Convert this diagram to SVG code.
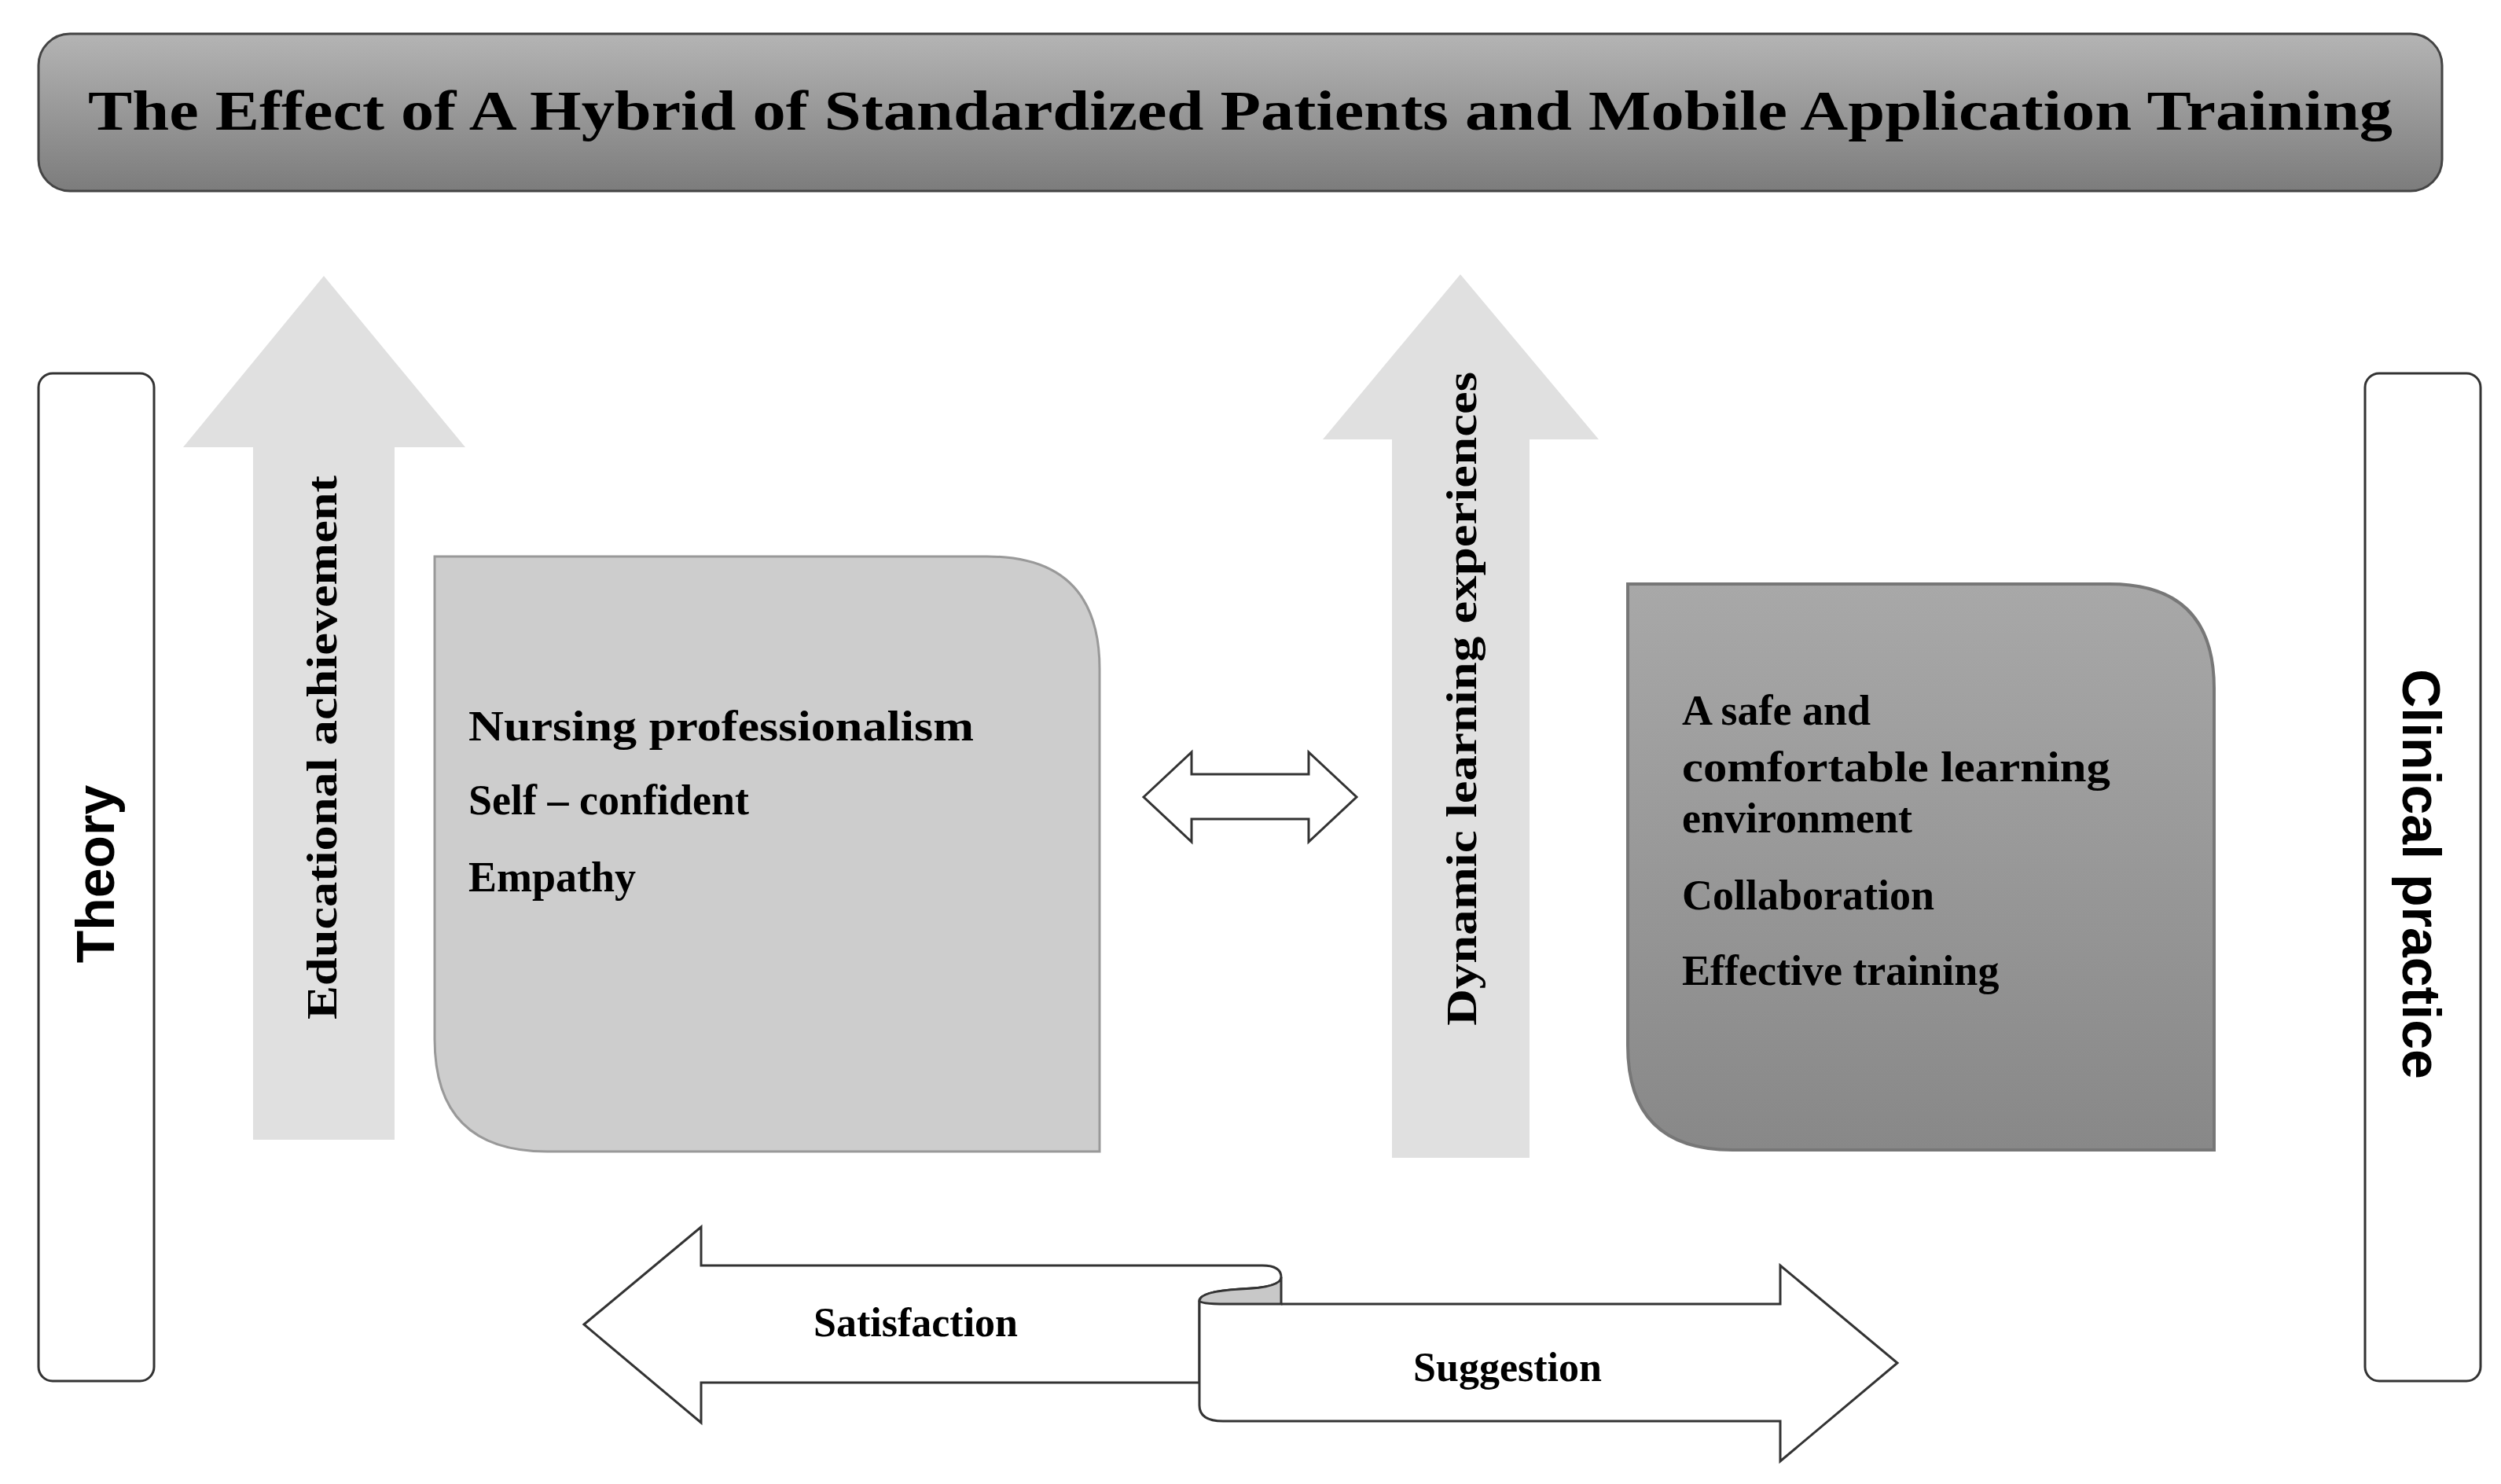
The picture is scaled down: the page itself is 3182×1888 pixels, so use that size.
<svg xmlns="http://www.w3.org/2000/svg" width="3182" height="1888" viewBox="0 0 3182 1888">
<defs>
<linearGradient id="gt" x1="0" y1="0" x2="0" y2="1"><stop offset="0" stop-color="#b4b4b4"/><stop offset="1" stop-color="#7c7c7c"/></linearGradient>
<linearGradient id="gr" x1="0" y1="0" x2="0" y2="1"><stop offset="0" stop-color="#a8a8a8"/><stop offset="1" stop-color="#888"/></linearGradient>
</defs>
<style>
.s{font-family:"Liberation Serif",serif;font-weight:bold;fill:#000}
.b{font-family:"Liberation Sans",sans-serif;font-weight:bold;fill:#000}
.up{fill:#e0e0e0}
.w{fill:#fff;stroke:#333;stroke-width:3}
</style>
<rect width="3182" height="1888" fill="#fff"/>
<g id="title"><rect x="49" y="43" width="3058" height="200" rx="40" fill="url(#gt)" stroke="#444" stroke-width="3"/>
<text class="s" x="1578" y="165" font-size="72" text-anchor="middle" textLength="2932" lengthAdjust="spacingAndGlyphs">The Effect of A Hybrid of Standardized Patients and Mobile Application Training</text></g>
<g id="theory"><rect x="49" y="475" width="147" height="1282" rx="18" fill="#fff" stroke="#333" stroke-width="3"/>
<text class="b" transform="translate(145,1112) rotate(-90)" font-size="68" text-anchor="middle">Theory</text></g>
<g id="clinical"><rect x="3009" y="475" width="147" height="1282" rx="18" fill="#fff" stroke="#333" stroke-width="3"/>
<text class="b" transform="translate(3057,1112) rotate(90)" font-size="68" text-anchor="middle">Clinical practice</text></g>
<g id="arrow1"><polygon class="up" points="322,1450 322,569 233,569 412,351 592,569 502,569 502,1450"/>
<text class="s" transform="translate(428,951) rotate(-90)" font-size="54" text-anchor="middle" textLength="692" lengthAdjust="spacingAndGlyphs">Educational achievement</text></g>
<g id="arrow2"><polygon class="up" points="1771,1473 1771,559 1683,559 1858,349 2034,559 1946,559 1946,1473"/>
<text class="s" transform="translate(1878,889) rotate(-90)" font-size="54" text-anchor="middle" textLength="832" lengthAdjust="spacingAndGlyphs">Dynamic learning experiences</text></g>
<g id="leftbox"><path d="M553,708 L1256,708 Q1399,708 1399,851 L1399,1465 L696,1465 Q553,1465 553,1322 Z" fill="#cdcdcd" stroke="#999" stroke-width="3"/>
<text class="s" font-size="54" x="596"><tspan y="942" textLength="643" lengthAdjust="spacingAndGlyphs">Nursing professionalism</tspan><tspan x="596" y="1036">Self – confident</tspan><tspan x="596" y="1134">Empathy</tspan></text></g>
<g id="rightbox"><path d="M2071,743 L2684,743 Q2817,743 2817,876 L2817,1463 L2204,1463 Q2071,1463 2071,1330 Z" fill="url(#gr)" stroke="#777" stroke-width="4"/>
<text class="s" font-size="54" x="2140"><tspan y="922">A safe and</tspan><tspan x="2140" y="994" textLength="545" lengthAdjust="spacingAndGlyphs">comfortable learning</tspan><tspan x="2140" y="1059">environment</tspan><tspan x="2140" y="1157">Collaboration</tspan><tspan x="2140" y="1253">Effective training</tspan></text></g>
<g id="connectors">
<polygon class="w" points="1455,1014 1516,957 1516,985 1665,985 1665,957 1726,1014 1665,1071 1665,1042 1516,1042 1516,1071"/>
<path class="w" d="M743,1685 L892,1561 L892,1610 L1606,1610 Q1630,1610 1630,1625 Q1630,1638 1578,1640 Q1526,1643 1526,1655 L1526,1759 L892,1759 L892,1810 Z"/>
<path class="w" d="M1526,1655 L1526,1788 Q1526,1808 1556,1808 L2265,1808 L2265,1859 L2414,1734 L2265,1610 L2265,1659 L1630,1659"/>
<path d="M1526,1655 Q1526,1643 1578,1640 Q1630,1638 1630,1625 L1630,1659 L1560,1659 Q1526,1659 1526,1655 Z" fill="#c8c8c8" stroke="#333" stroke-width="3"/>
<text class="s" x="1165" y="1700" font-size="52" text-anchor="middle">Satisfaction</text>
<text class="s" x="1918" y="1757" font-size="52" text-anchor="middle">Suggestion</text>
</g>
</svg>
